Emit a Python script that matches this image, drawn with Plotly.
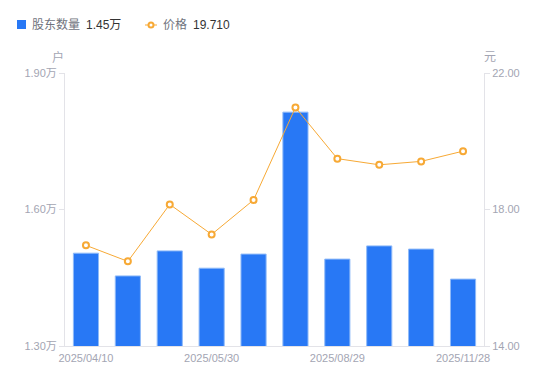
import plotly.graph_objects as go

dates = ["2025/04/10", "2025/04/18", "2025/04/30", "2025/05/30", "2025/06/30",
         "2025/07/31", "2025/08/29", "2025/09/30", "2025/10/31", "2025/11/28"]
holders = [15040, 14540, 15090, 14710, 15020, 18140, 14910, 15200, 15130, 14470]
price = [16.95, 16.48, 18.15, 17.27, 18.28, 20.99, 19.49, 19.31, 19.41, 19.71]

xtick_vals = ["2025/04/10", "2025/05/30", "2025/08/29", "2025/11/28"]
left_tickvals = [13000, 16000, 19000]
left_ticktext = ["1.30万", "1.60万", "1.90万"]
right_tickvals = [14, 18, 22]

W, H = 550, 381
L, R, T, B = 65, 484, 73, 346
FONT = "Liberation Sans, Arial, Noto Sans CJK SC, sans-serif"
BAR = "#2878f5"
ORANGE = "#f7a935"
GRAY = "#a3a5b3"


def px(x):
    return (x - L) / (R - L)


def py(y):
    return (B - y) / (B - T)


fig = go.Figure()
fig.add_trace(go.Bar(
    x=dates, y=holders, name="股东数量",
    marker=dict(color=BAR, line=dict(color="#8fbaf8", width=1)),
    yaxis="y",
))
fig.add_trace(go.Scatter(
    x=dates, y=price, name="价格", mode="lines+markers",
    line=dict(color=ORANGE, width=1),
    marker=dict(size=6, color="white", line=dict(color=ORANGE, width=2)),
    yaxis="y2",
))

fig.update_layout(
    width=W, height=H,
    margin=dict(l=L, r=W - R, t=T, b=H - B),
    paper_bgcolor="white", plot_bgcolor="white",
    showlegend=False,
    bargap=0.4,
    font=dict(family=FONT, size=11, color=GRAY),
    xaxis=dict(
        type="category", tickmode="array", tickvals=xtick_vals,
        showline=True, linecolor="#e3e3e8", linewidth=1,
        ticks="", showgrid=False, tickfont=dict(size=11, color=GRAY),
        ticklabelstandoff=2,
        range=[-0.5, len(dates) - 0.5],
    ),
    yaxis=dict(
        range=[13000, 19000], tickmode="array", tickvals=left_tickvals,
        ticktext=left_ticktext, showgrid=False, zeroline=False,
        showline=True, linecolor="#e3e3e8", linewidth=1,
        ticks="outside", ticklen=5, tickcolor="#e3e3e8",
        tickfont=dict(size=11, color=GRAY),
    ),
    yaxis2=dict(
        range=[14, 22], tickmode="array", tickvals=right_tickvals,
        tickformat=".2f", overlaying="y", side="right", showgrid=False,
        zeroline=False, showline=True, linecolor="#e3e3e8", linewidth=1,
        ticks="outside", ticklen=5, tickcolor="#e3e3e8",
        tickfont=dict(size=11, color=GRAY),
    ),
)

ann = []
ann.append(dict(x=px(58), y=py(57), text="户", showarrow=False, xref="paper", yref="paper",
                font=dict(size=12, color=GRAY), xanchor="center", yanchor="middle"))
ann.append(dict(x=px(490), y=py(57), text="元", showarrow=False, xref="paper", yref="paper",
                font=dict(size=12, color=GRAY), xanchor="center", yanchor="middle"))
ann.append(dict(x=px(30), y=py(25), text="股东数量", showarrow=False, xref="paper", yref="paper",
                font=dict(size=12, color="#70737d"), xanchor="left", yanchor="middle"))
ann.append(dict(x=px(84), y=py(25), text="1.45万", showarrow=False, xref="paper", yref="paper",
                font=dict(size=12, color="#333333"), xanchor="left", yanchor="middle"))
ann.append(dict(x=px(161), y=py(25), text="价格", showarrow=False, xref="paper", yref="paper",
                font=dict(size=12, color="#70737d"), xanchor="left", yanchor="middle"))
ann.append(dict(x=px(191), y=py(25), text="19.710", showarrow=False, xref="paper", yref="paper",
                font=dict(size=12, color="#333333"), xanchor="left", yanchor="middle"))
fig.update_layout(annotations=ann)

shapes = [
    dict(type="rect", xref="paper", yref="paper", x0=px(17), x1=px(26), y0=py(20), y1=py(29),
         fillcolor=BAR, line=dict(width=0)),
    dict(type="line", xref="paper", yref="paper", x0=px(145), x1=px(157), y0=py(25), y1=py(25),
         line=dict(color=ORANGE, width=1)),
    dict(type="circle", xref="paper", yref="paper", x0=px(148.5), x1=px(153.5), y0=py(22.5), y1=py(27.5),
         fillcolor="white", line=dict(color=ORANGE, width=2)),
]
fig.update_layout(shapes=shapes)

fig.write_html("out.html", config={"displayModeBar": False},
               post_script="document.body.style.margin='0';document.body.style.overflow='hidden';")
